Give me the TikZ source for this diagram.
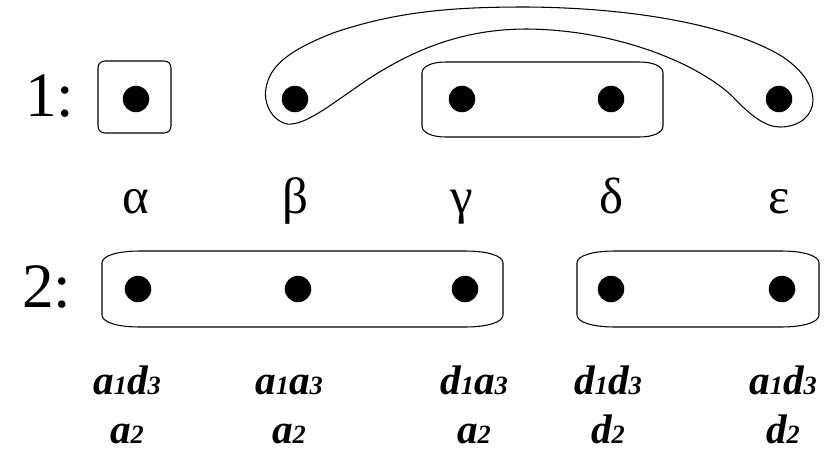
\documentclass[tikz,border=0pt]{standalone}
\usepackage{fontspec}
\setmainfont{Liberation Serif}
\tikzset{
  dot/.style={circle,fill,inner sep=0pt,minimum size=5.3mm},
  grp/.style={draw,line width=0.6pt},
  big/.style={font=\fontsize{36}{40}\selectfont,inner sep=0pt},
  grk/.style={font=\fontsize{29}{32}\selectfont,inner sep=0pt,anchor=base},
  lbl/.style={align=center,inner sep=0pt,anchor=base,font=\fontsize{23.5}{27.5}\selectfont\bfseries\itshape},
}
\newcommand{\dg}[1]{{\fontsize{15}{15}\selectfont #1}}
% box with flattened corners: x1,y1,x2,y2,corner width,corner height
\newcommand{\grpbox}[6]{\draw[grp] (#1,#2+#6) .. controls (#1,#2+#6*0.4) and (#1+#5*0.4,#2) .. (#1+#5,#2) -- (#3-#5,#2)
  .. controls (#3-#5*0.4,#2) and (#3,#2+#6*0.4) .. (#3,#2+#6) -- (#3,#4-#6)
  .. controls (#3,#4-#6*0.4) and (#3-#5*0.4,#4) .. (#3-#5,#4) -- (#1+#5,#4)
  .. controls (#1+#5*0.4,#4) and (#1,#4-#6*0.4) .. (#1,#4-#6) -- cycle;}

\begin{document}
\begin{tikzpicture}[x=0.2mm,y=-0.2mm]
\useasboundingbox (0,0) rectangle (837,451);
\node[big,anchor=base west] (r1) at (25,117){1:}; \node[big,anchor=base west] (r2) at (22,307){2:};
\foreach \n/\x/\xx/\g in {a/136/138/α,b/295/298/β,g/462/465/γ,d/611/611/δ,e/779/782/ε}{
  \node[dot] (\n1) at (\x,99){}; \node[dot] (\n2) at (\xx,289){};
  \node[grk] (\n g) at (\x,213){\g};
}
\node[lbl] (la) at (127,443){a\dg1d\dg3\\a\dg2};
\node[lbl] (lb) at (289,443){a\dg1a\dg3\\a\dg2};
\node[lbl] (lg) at (474,443){d\dg1a\dg3\\a\dg2};
\node[lbl] (ld) at (608,443){d\dg1d\dg3\\d\dg2};
\node[lbl] (le) at (783,443){a\dg1d\dg3\\d\dg2};
% row 1 groups
\grpbox{98}{61}{171}{133}{7}{7}
\grpbox{422}{62}{663}{137}{24}{11}
\draw[grp] (287,124) .. controls (270,120) and (263,100) .. (266,88)
  .. controls (270,65) and (290,50) .. (333,33) .. controls (400,10) and (460,7) .. (527,7)
  .. controls (650,8) and (740,30) .. (783,57) .. controls (805,72) and (813,88) .. (813,100)
  .. controls (813,115) and (800,127) .. (780,127) .. controls (765,127) and (750,115) .. (733,97)
  .. controls (700,65) and (620,30) .. (527,29) .. controls (470,29) and (420,45) .. (367,80)
  .. controls (330,105) and (305,126) .. cycle;
% row 2 groups
\grpbox{102}{251}{503}{327}{38}{12}
\grpbox{577}{251}{819}{327}{38}{12}
\end{tikzpicture}
\end{document}
